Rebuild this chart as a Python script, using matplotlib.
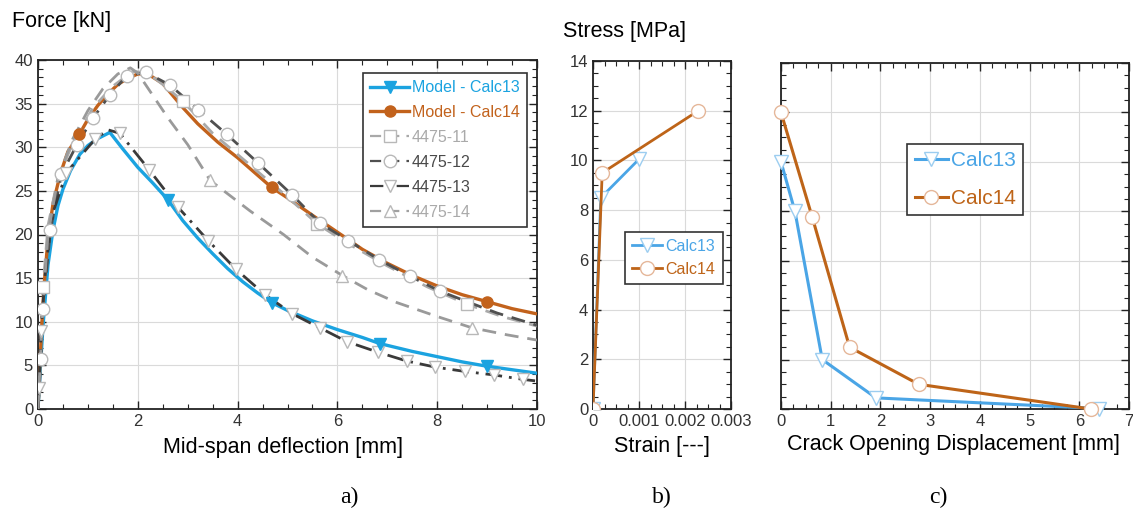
import matplotlib
matplotlib.use('Agg')
import matplotlib.pyplot as plt
from matplotlib.lines import Line2D
from matplotlib.ticker import MultipleLocator, FuncFormatter

plt.rcParams['font.family'] = ['Liberation Sans', 'DejaVu Sans']

# ---------------- Panel a: Force vs mid-span deflection ----------------
calc13_x = [0, 0.05, 0.1, 0.2, 0.3, 0.4, 0.5, 0.65, 0.84, 1.0, 1.2, 1.44, 1.7, 2.0, 2.3,
            2.6, 2.9, 3.2, 3.5, 3.8, 4.1, 4.4, 4.68, 5.0, 5.5, 6.0, 6.5, 6.85, 7.5, 8.0,
            8.5, 9.0, 9.5, 10.0]
calc13_y = [0, 5, 9.5, 16.5, 20.5, 23.3, 25.2, 27.3, 29.2, 30.2, 31.0, 31.7, 29.8, 27.7, 25.9,
            24.0, 21.6, 19.6, 17.8, 16.1, 14.6, 13.3, 12.2, 11.3, 10.1, 9.1, 8.2, 7.5, 6.6, 6.0,
            5.4, 4.9, 4.5, 4.1]
calc13_mx = [2.6, 4.68, 6.85, 9.0]
calc13_my = [24.0, 12.2, 7.5, 4.9]

calc14_x = [0, 0.03, 0.07, 0.12, 0.2, 0.3, 0.45, 0.6, 0.83, 1.0, 1.2, 1.4, 1.6, 1.8, 2.0,
            2.2, 2.5, 2.91, 3.2, 3.6, 4.0, 4.68, 5.0, 5.5, 6.12, 6.5, 7.0, 7.5, 8.0, 8.5,
            9.0, 9.5, 10.0]
calc14_y = [0, 4, 9, 14, 19.5, 23.5, 27, 29.5, 31.5, 33.2, 34.8, 36.1, 37.2, 37.9, 38.4,
            38.4, 37.3, 34.5, 32.7, 30.6, 28.8, 25.4, 24.2, 22.2, 19.8, 18.3, 16.7, 15.3, 14.1, 13.1,
            12.3, 11.5, 10.9]
calc14_mx = [0.83, 4.68, 9.0]
calc14_my = [31.5, 25.4, 12.3]

e11_x = [0, 0.05, 0.1, 0.2, 0.4, 0.7, 1.1, 1.5, 1.9, 2.2, 2.5, 2.9, 3.5, 4.2, 5.0,
         5.6, 6.2, 7.0, 7.8, 8.6, 9.3, 10.0]
e11_y = [0, 7, 14, 21, 26.5, 30.5, 34.5, 37, 38.7, 38.5, 37.2, 35.3, 31.6, 28.2, 24.3,
         21.2, 19.0, 16.4, 14.0, 12.0, 10.6, 9.5]
e11_mx = [0.1, 2.9, 5.6, 8.6]
e11_my = [14, 35.3, 21.2, 12.0]

e12_x = [0, 0.03, 0.06, 0.1, 0.25, 0.47, 0.78, 1.11, 1.44, 1.78, 2.16, 2.65, 3.21, 3.78,
         4.41, 5.1, 5.65, 6.22, 6.84, 7.46, 8.06, 8.6, 9.2, 10.0]
e12_y = [0, 2.6, 5.7, 11.5, 20.5, 26.9, 30.3, 33.4, 36.0, 38.2, 38.6, 37.1, 34.3, 31.5,
         28.2, 24.5, 21.3, 19.3, 17.1, 15.2, 13.5, 12.3, 11.0, 9.6]
e12_mx = [0.06, 0.1, 0.25, 0.47, 0.78, 1.11, 1.44, 1.78, 2.16, 2.65, 3.21, 3.78, 4.41,
          5.1, 5.65, 6.22, 6.84, 7.46, 8.06]
e12_my = [5.7, 11.5, 20.5, 26.9, 30.3, 33.4, 36.0, 38.2, 38.6, 37.1, 34.3, 31.5, 28.2,
          24.5, 21.3, 19.3, 17.1, 15.2, 13.5]

e13_x = [0, 0.02, 0.06, 0.15, 0.3, 0.57, 1.14, 1.4, 1.64, 2.23, 2.81, 3.41, 3.97, 4.55,
         5.1, 5.65, 6.2, 6.82, 7.39, 7.96, 8.56, 9.14, 9.71, 10.0]
e13_y = [0, 2.4, 8.9, 16, 22.5, 27.1, 30.9, 32.0, 31.6, 27.4, 23.1, 19.3, 16.0, 13.1,
         10.9, 9.3, 7.7, 6.5, 5.5, 4.8, 4.3, 3.9, 3.4, 3.2]
e13_mx = [0.02, 0.06, 0.57, 1.14, 1.64, 2.23, 2.81, 3.41, 3.97, 4.55, 5.1, 5.65, 6.2,
          6.82, 7.39, 7.96, 8.56, 9.14, 9.71]
e13_my = [2.4, 8.9, 27.1, 30.9, 31.6, 27.4, 23.1, 19.3, 16.0, 13.1, 10.9, 9.3, 7.7,
          6.5, 5.5, 4.8, 4.3, 3.9, 3.4]

e14_x = [0, 0.05, 0.1, 0.2, 0.4, 0.7, 1.0, 1.3, 1.6, 1.85, 2.0, 2.2, 2.6, 3.0, 3.45,
         4.25, 4.92, 5.5, 6.1, 6.6, 7.19, 8.0, 8.7, 9.4, 10.0]
e14_y = [0, 6, 12, 20, 26.5, 31, 34.2, 36.7, 38.4, 39.1, 38.5, 36.8, 33.4, 30.3, 26.2,
         22.7, 20.0, 17.4, 15.3, 13.7, 12.2, 10.6, 9.3, 8.5, 7.9]
e14_mx = [3.45, 6.1, 8.7]
e14_my = [26.2, 15.3, 9.3]

# ---------------- Panel b: Stress vs strain ----------------
b13_x = [0, 0.00017, 0.001]
b13_y = [0, 8.5, 10.05]
b14_x = [0, 0.0002, 0.00229]
b14_y = [0, 9.5, 12.0]

# ---------------- Panel c: Stress vs crack opening ----------------
cc13_x = [0, 0.28, 0.83, 1.91, 6.4]
cc13_y = [10.0, 8.0, 2.0, 0.45, 0.02]
cc14_x = [0, 0.63, 1.38, 2.77, 6.23]
cc14_y = [12.0, 7.75, 2.5, 1.0, 0.0]

BLUE = '#1BA3E0'
ORANGE = '#C2621C'
LBLUE = '#4AA5E6'
LORANGE = '#BE6418'
LGRAY = '#A9A9A9'
DGRAY = '#505050'
DDGRAY = '#3A3A3A'
MEC = '#B8B8B8'
TICKC = '#333333'

W, H = 1133, 515
fig = plt.figure(figsize=(W / 100, H / 100), dpi=100)


def ax_rect(l, r, t, b):
    return [l / W, 1 - b / H, (r - l) / W, (b - t) / H]


def style(ax):
    ax.grid(True, color='#DADADA', lw=0.8)
    ax.set_axisbelow(True)
    ax.tick_params(which='both', direction='in', top=True, right=True,
                   labelsize=12, labelcolor=TICKC, color='#222222')
    ax.tick_params(which='major', length=6, width=1.0)
    ax.tick_params(which='minor', length=3.5, width=0.8)
    for s in ax.spines.values():
        s.set_linewidth(1.3)
        s.set_color('#222222')


# ---- Panel a
axa = fig.add_axes(ax_rect(38, 537, 60, 409))
style(axa)
axa.set_xlim(0, 10)
axa.set_ylim(0, 40)
axa.xaxis.set_major_locator(MultipleLocator(2))
axa.xaxis.set_minor_locator(MultipleLocator(0.5))
axa.yaxis.set_major_locator(MultipleLocator(5))
axa.yaxis.set_minor_locator(MultipleLocator(1))

axa.plot(calc13_x, calc13_y, color=BLUE, lw=2.4, zorder=3)
axa.plot(calc14_x, calc14_y, color=ORANGE, lw=2.4, zorder=3)
dash = (0, (5, 3.2))
axa.plot(e11_x, e11_y, color=LGRAY, lw=2.0, ls=dash, zorder=4)
axa.plot(e12_x, e12_y, color=DGRAY, lw=2.0, ls=dash, zorder=4)
axa.plot(e13_x, e13_y, color=DDGRAY, lw=2.0, ls=(0, (6, 2.5, 1, 2.5)), zorder=4)
axa.plot(e14_x, e14_y, color='#9A9A9A', lw=2.0, ls=dash, zorder=4)
mk = dict(ls='none', mfc='white', mec=MEC, ms=9, mew=1.0, zorder=5)
axa.plot(e11_mx, e11_my, marker='s', **mk)
axa.plot(e12_mx, e12_my, marker='o', **mk)
axa.plot(e13_mx, e13_my, marker='v', **mk)
axa.plot(e14_mx, e14_my, marker='^', **mk)
axa.plot(calc13_mx, calc13_my, ls='none', marker='v', color=BLUE, ms=8, zorder=6)
axa.plot(calc14_mx, calc14_my, ls='none', marker='o', color=ORANGE, ms=8, zorder=6)

handles = [
    Line2D([], [], color=BLUE, lw=2.4, marker='v', ms=8),
    Line2D([], [], color=ORANGE, lw=2.4, marker='o', ms=8),
    Line2D([], [], color=LGRAY, lw=1.6, ls=dash, marker='s', mfc='white', mec=MEC, ms=9),
    Line2D([], [], color=DGRAY, lw=1.6, ls=dash, marker='o', mfc='white', mec=MEC, ms=9),
    Line2D([], [], color=DDGRAY, lw=1.6, ls=(0, (6, 2.5, 1, 2.5)), marker='v', mfc='white', mec=MEC, ms=9),
    Line2D([], [], color='#A0A0A0', lw=1.6, ls=dash, marker='^', mfc='white', mec=MEC, ms=9),
]
labels = ['Model - Calc13', 'Model - Calc14', '4475-11', '4475-12', '4475-13', '4475-14']
leg = axa.legend(handles, labels, loc='upper right', bbox_to_anchor=(0.98, 0.963),
                 fontsize=11.5, frameon=True, fancybox=False, edgecolor='#333333',
                 framealpha=1, handlelength=2.4, handletextpad=0.2, labelspacing=0.62,
                 borderpad=0.45, borderaxespad=0,
                 labelcolor=[BLUE, ORANGE, '#AAAAAA', '#4A4A4A', '#4A4A4A', '#AAAAAA'])
leg.get_frame().set_linewidth(1.2)
leg.set_zorder(10)

axa.set_xlabel('Mid-span deflection [mm]', fontsize=15.5)
axa.xaxis.set_label_coords(0.49, -0.109)
axa.xaxis.label.set_verticalalignment('center')
fig.text(12 / W, 1 - 22 / H, 'Force [kN]', fontsize=15.5, va='center', ha='left')

# ---- Panel b
axb = fig.add_axes(ax_rect(593, 731, 61, 409))
style(axb)
axb.set_xlim(0, 0.003)
axb.set_ylim(0, 14)
axb.xaxis.set_major_locator(MultipleLocator(0.001))
axb.xaxis.set_minor_locator(MultipleLocator(0.00025))
axb.yaxis.set_major_locator(MultipleLocator(2))
axb.yaxis.set_minor_locator(MultipleLocator(0.5))
axb.xaxis.set_major_formatter(FuncFormatter(lambda v, p: '0' if abs(v) < 1e-9 else f'{v:.3f}'))
axb.plot(b13_x, b13_y, color=LBLUE, lw=2.0, marker='v', mfc='white', mec='#9CCDF0',
         ms=10, label='Calc13', zorder=3)
axb.plot(b14_x, b14_y, color=LORANGE, lw=2.0, marker='o', mfc='white', mec='#E5B79A',
         ms=10, label='Calc14', zorder=3)
legb = axb.legend(loc='upper right', bbox_to_anchor=(0.94, 0.51), fontsize=11.5,
                  frameon=True, fancybox=False, edgecolor='#333333', framealpha=1,
                  handlelength=1.9, handletextpad=0.2, labelspacing=0.5, borderpad=0.45,
                  labelcolor='linecolor', borderaxespad=0)
legb.get_frame().set_linewidth(1.2)
axb.set_xlabel('Strain [---]', fontsize=15.5)
axb.xaxis.set_label_coords(0.5, -0.109)
axb.xaxis.label.set_verticalalignment('center')
fig.text(563 / W, 1 - 32 / H, 'Stress [MPa]', fontsize=15.5, va='center', ha='left')

# ---- Panel c
axc = fig.add_axes(ax_rect(781, 1129, 63, 409))
style(axc)
axc.set_xlim(0, 7)
axc.set_ylim(0, 14)
axc.xaxis.set_major_locator(MultipleLocator(1))
axc.xaxis.set_minor_locator(MultipleLocator(0.25))
axc.yaxis.set_major_locator(MultipleLocator(2))
axc.yaxis.set_minor_locator(MultipleLocator(0.5))
axc.tick_params(axis='y', labelleft=False)
axc.plot(cc13_x, cc13_y, color=LBLUE, lw=2.2, marker='v', mfc='white', mec='#9CCDF0',
         ms=10, label='Calc13', zorder=3, clip_on=False)
axc.plot(cc14_x, cc14_y, color=LORANGE, lw=2.2, marker='o', mfc='white', mec='#E5B79A',
         ms=10, label='Calc14', zorder=3, clip_on=False)
legc = axc.legend(loc='upper left', bbox_to_anchor=(0.363, 0.766), fontsize=15,
                  frameon=True, fancybox=False, edgecolor='#333333', framealpha=1,
                  handlelength=1.6, handletextpad=0.15, labelspacing=0.9, borderpad=0.35,
                  labelcolor='linecolor', borderaxespad=0)
legc.get_frame().set_linewidth(1.2)
axc.set_xlabel('Crack Opening Displacement [mm]', fontsize=15.5)
axc.xaxis.set_label_coords(0.495, -0.104)
axc.xaxis.label.set_verticalalignment('center')

# ---- sub-captions
for xc, t in [(349, 'a)'), (662, 'b)'), (938, 'c)')]:
    fig.text(xc / W, 1 - 497 / H, t, fontsize=17, family=['Liberation Serif', 'DejaVu Serif'],
             ha='center', va='center')

fig.savefig('out.png', dpi=100, facecolor='white')
